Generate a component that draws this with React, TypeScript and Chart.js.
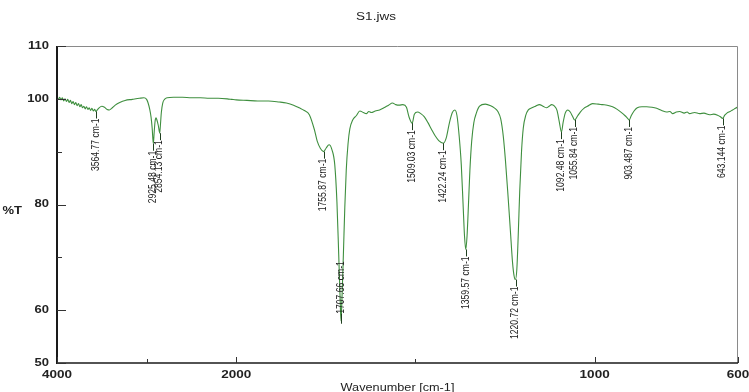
import React, { useEffect, useRef } from "react";
import { Chart, registerables, LinearScale } from "chart.js";

// ---------------- data ----------------
const wavenumbers: number[] = [
  4000, 3985, 3970, 3955, 3940, 3925, 3910, 3895, 3880, 3865, 3850, 3835, 3820, 3805, 3790, 3775, 3760, 3745, 3730, 3715,
  3700, 3685, 3670, 3655, 3640, 3625, 3610, 3595, 3580, 3565, 3550, 3530, 3500, 3470, 3440, 3415, 3390, 3350, 3300, 3240,
  3160, 3080, 3030, 3000, 2985, 2965, 2950, 2938, 2925, 2915, 2905, 2895, 2885, 2870, 2860, 2854, 2846, 2835, 2820, 2800,
  2770, 2700, 2600, 2500, 2400, 2300, 2200, 2100, 2050, 2000, 1970, 1940, 1910, 1880, 1860, 1840, 1824, 1810, 1796, 1782,
  1774, 1765, 1756, 1749, 1741, 1733, 1725, 1719, 1714, 1710, 1707.7, 1705, 1701, 1697, 1693, 1688, 1683, 1675, 1665, 1655,
  1645, 1637, 1630, 1623, 1612, 1600, 1588, 1575, 1564, 1555, 1545, 1535, 1525, 1518, 1509, 1503, 1494, 1485, 1475, 1465,
  1455, 1445, 1435, 1422, 1414, 1405, 1397, 1390, 1384, 1378, 1372, 1367, 1363, 1359.6, 1356, 1352, 1348, 1343, 1337, 1330,
  1321, 1305, 1290, 1280, 1270, 1262, 1255, 1249, 1242, 1235, 1229, 1225, 1221, 1217, 1213, 1209, 1204, 1199, 1192, 1185,
  1175, 1165, 1154, 1144, 1134, 1127, 1120, 1112, 1105, 1099, 1092.5, 1088, 1082, 1075, 1068, 1061, 1056, 1048, 1040, 1030,
  1020, 1006, 990, 978, 965, 950, 937, 925, 915, 908, 903.5, 898, 890, 881, 868, 855, 840, 827, 813, 799,
  790, 782, 772, 763, 750, 742, 735, 721, 707, 695, 679, 668, 657, 649, 643, 637, 631, 622, 615, 607, 600,
];
const transmittance: number[] = [
  100.2, 99.9, 100.3, 99.8, 100.2, 99.6, 100.0, 99.5, 99.9, 99.3, 99.7, 99.1, 99.5, 98.9, 99.3, 98.7, 99.1, 98.5, 98.9, 98.3,
  98.6, 98.1, 98.5, 98.0, 98.3, 97.8, 98.2, 97.7, 98.0, 97.6, 97.9, 98.3, 98.6, 98.4, 98.0, 97.9, 98.2, 98.8, 99.3, 99.7,
  99.9, 100.1, 100.2, 99.9, 99.3, 98.0, 96.5, 94.5, 91.5, 93.8, 95.8, 96.4, 96.0, 95.0, 94.0, 93.5, 95.0, 97.5, 99.2, 99.9,
  100.2, 100.3, 100.3, 100.2, 100.2, 100.1, 100.1, 100.0, 99.9, 99.8, 99.7, 99.6, 99.6, 99.4, 99.2, 98.8, 98.3, 97.8, 97.0, 94.2,
  92.0, 90.6, 90.0, 90.7, 91.3, 90.4, 87.5, 80.5, 70.5, 62.0, 58.0, 62.0, 70.5, 79.5, 86.5, 91.5, 94.3, 96.0, 96.8, 97.7,
  97.4, 97.2, 97.6, 97.4, 97.7, 97.9, 98.3, 98.8, 99.2, 98.9, 98.8, 98.9, 98.4, 96.6, 95.4, 97.1, 97.5, 97.2, 96.6, 95.5,
  94.2, 93.0, 92.1, 91.6, 92.6, 95.5, 97.4, 97.9, 96.8, 93.0, 87.5, 80.0, 74.0, 71.5, 74.0, 80.0, 86.5, 92.0, 95.5, 97.3,
  98.6, 99.0, 98.7, 98.3, 97.6, 96.2, 93.0, 88.5, 82.0, 75.0, 69.0, 66.6, 65.8, 67.8, 74.5, 82.5, 90.0, 94.5, 96.9, 97.9,
  98.3, 98.6, 98.9, 98.6, 98.3, 98.6, 98.9, 98.6, 97.8, 95.8, 93.7, 95.5, 97.3, 97.9, 97.5, 96.6, 96.0, 96.7, 97.5, 98.2,
  98.6, 99.1, 99.0, 98.9, 98.8, 98.5, 98.0, 97.4, 96.8, 96.3, 96.0, 96.8, 97.7, 98.3, 98.5, 98.5, 98.4, 98.2, 97.8, 97.5,
  97.6, 97.2, 97.5, 97.6, 97.3, 97.5, 97.2, 97.4, 97.2, 97.3, 97.0, 97.1, 96.9, 96.6, 96.3, 96.9, 97.3, 97.6, 97.9, 98.2, 98.5,
];

const peakWavenumbers: number[] = [3564.77, 2925.48, 2854.13, 1755.87, 1707.66, 1509.03, 1422.24, 1359.57, 1220.72, 1092.48, 1055.84, 903.487, 643.144];
const peakTransmittance: number[] = [97.6, 91.5, 93.5, 90.0, 58.0, 95.4, 91.6, 71.5, 65.8, 93.7, 96.0, 96.0, 96.3];
const peakLabels: string[] = [
  "3564.77 cm-1", "2925.48 cm-1", "2854.13 cm-1", "1755.87 cm-1", "1707.66 cm-1", "1509.03 cm-1", "1422.24 cm-1",
  "1359.57 cm-1", "1220.72 cm-1", "1092.48 cm-1", "1055.84 cm-1", "903.487 cm-1", "643.144 cm-1",
];

const xMajorTicks: number[] = [4000, 2000, 1000, 600];
const xMinorTicks: number[] = [3000, 1500];
const yMajorTicks: number[] = [50, 60, 80, 100, 110];
const yMinorTicks: number[] = [70, 90];

const chartTitle = "S1.jws";
const xTitle = "Wavenumber [cm-1]";
const yTitle = "%T";

// ---------------- broken wavenumber scale (JASCO style: 2000 cm-1 break, 4x compression above) ----------------
const BREAK = 2000;
const COMPRESS = 4;
function toU(wn: number): number {
  return wn >= BREAK ? -(wn - BREAK) / COMPRESS : BREAK - wn;
}
function fromU(u: number): number {
  return u <= 0 ? BREAK - u * COMPRESS : BREAK - u;
}

class BrokenWavenumberScale extends LinearScale {
  getPixelForValue(value: number) {
    const u0 = toU(this.max);
    const u1 = toU(this.min);
    return this.getPixelForDecimal((toU(value) - u0) / (u1 - u0));
  }
  getValueForPixel(pixel: number) {
    const u0 = toU(this.max);
    const u1 = toU(this.min);
    return fromU(u0 + this.getDecimalForPixel(pixel) * (u1 - u0));
  }
}
(BrokenWavenumberScale as any).id = "brokenWavenumber";
(BrokenWavenumberScale as any).defaults = (LinearScale as any).defaults;

Chart.register(...registerables, BrokenWavenumberScale as any);

// ---------------- drawing helpers ----------------
function stretchedText(ctx: CanvasRenderingContext2D, text: string, x: number, y: number, align: CanvasTextAlign, sx: number) {
  ctx.save();
  ctx.translate(x, y);
  ctx.scale(sx, 1);
  ctx.textAlign = align;
  ctx.textBaseline = "middle";
  ctx.fillText(text, 0, 0);
  ctx.restore();
}

const decorPlugin = {
  id: "ftirDecor",
  afterDatasetsDraw(chart: any) {
    const ctx: CanvasRenderingContext2D = chart.ctx;
    const { left, right, top, bottom } = chart.chartArea;
    const xs = chart.scales.x;
    const ys = chart.scales.y;

    ctx.save();
    // frame: top/right thin grey
    ctx.strokeStyle = "#8a8a8a";
    ctx.lineWidth = 1;
    ctx.beginPath();
    ctx.moveTo(left, top + 0.5);
    ctx.lineTo(right - 0.5, top + 0.5);
    ctx.lineTo(right - 0.5, bottom);
    ctx.stroke();
    // left & bottom axes
    ctx.strokeStyle = "#1a1a1a";
    ctx.lineWidth = 2;
    ctx.beginPath();
    ctx.moveTo(left, top);
    ctx.lineTo(left, bottom + 1);
    ctx.stroke();
    ctx.lineWidth = 1.5;
    ctx.beginPath();
    ctx.moveTo(left, bottom);
    ctx.lineTo(right, bottom);
    ctx.stroke();

    // ticks (inward)
    ctx.lineWidth = 1;
    ctx.strokeStyle = "#333";
    ctx.beginPath();
    yMajorTicks.forEach((v) => {
      const y = Math.round(ys.getPixelForValue(v)) + 0.5;
      ctx.moveTo(left, y);
      ctx.lineTo(left + 9, y);
    });
    yMinorTicks.forEach((v) => {
      const y = Math.round(ys.getPixelForValue(v)) + 0.5;
      ctx.moveTo(left, y);
      ctx.lineTo(left + 5, y);
    });
    xMajorTicks.forEach((v) => {
      const x = Math.round(xs.getPixelForValue(v)) + 0.5;
      ctx.moveTo(x, bottom);
      ctx.lineTo(x, bottom - 6);
    });
    xMinorTicks.forEach((v) => {
      const x = Math.round(xs.getPixelForValue(v)) + 0.5;
      ctx.moveTo(x, bottom);
      ctx.lineTo(x, bottom - 4);
    });
    ctx.stroke();

    // tick labels
    ctx.fillStyle = "#222";
    ctx.font = "bold 10px 'Liberation Sans', Arial, sans-serif";
    yMajorTicks.forEach((v) => {
      stretchedText(ctx, String(v), left - 8, ys.getPixelForValue(v), "right", 1.3);
    });
    xMajorTicks.forEach((v) => {
      stretchedText(ctx, String(v), xs.getPixelForValue(v), bottom + 12, "center", 1.35);
    });

    // titles
    ctx.font = "10px 'Liberation Sans', Arial, sans-serif";
    stretchedText(ctx, chartTitle, 376, 17, "center", 1.35);
    stretchedText(ctx, xTitle, (left + right) / 2, 388, "center", 1.27);
    ctx.font = "bold 10px 'Liberation Sans', Arial, sans-serif";
    stretchedText(ctx, yTitle, 22, 211, "right", 1.3);

    // peak annotations
    const gap = 7;
    const sx = 0.86;
    ctx.font = "10px 'Liberation Sans', Arial, sans-serif";
    peakWavenumbers.forEach((wn, i) => {
      const px = xs.getPixelForValue(wn);
      const py = ys.getPixelForValue(peakTransmittance[i]);
      const len = ctx.measureText(peakLabels[i]).width * sx;
      const below = py + gap + len <= bottom - 2;
      ctx.strokeStyle = "#1f3f1f";
      ctx.lineWidth = 1;
      ctx.beginPath();
      const lx = Math.round(px) + 0.5;
      if (below) {
        ctx.moveTo(lx, py);
        ctx.lineTo(lx, py + gap);
      } else {
        ctx.moveTo(lx, py + 3);
        ctx.lineTo(lx, py - gap);
      }
      ctx.stroke();
      ctx.save();
      ctx.fillStyle = "#222";
      ctx.translate(px, below ? py + gap + len : py - gap);
      ctx.rotate(-Math.PI / 2);
      ctx.scale(sx, 1);
      ctx.textAlign = "left";
      ctx.textBaseline = "middle";
      ctx.fillText(peakLabels[i], 0, 0);
      ctx.restore();
    });
    ctx.restore();
  },
};

export default function App() {
  const ref = useRef<HTMLCanvasElement>(null);
  useEffect(() => {
    document.body.style.margin = "0";
    const canvas = ref.current;
    if (!canvas) return;
    const chart = new Chart(canvas, {
      type: "line",
      data: {
        datasets: [
          {
            data: wavenumbers.map((w, i) => ({ x: w, y: transmittance[i] })),
            borderColor: "#3f8f3f",
            borderWidth: 1.1,
            pointRadius: 0,
            fill: false,
            cubicInterpolationMode: "monotone",
          },
        ],
      },
      options: {
        animation: false,
        responsive: false,
        devicePixelRatio: 1,
        events: [],
        layout: { padding: { left: 57, right: 11, top: 46, bottom: 29 } },
        plugins: { legend: { display: false }, tooltip: { enabled: false }, title: { display: false } },
        scales: {
          x: { type: "brokenWavenumber" as any, min: 600, max: 4000, display: false },
          y: { type: "linear", min: 50, max: 110, display: false },
        },
      },
      plugins: [decorPlugin],
    });
    return () => chart.destroy();
  }, []);
  return (
    <div style={{ width: 749, height: 392, position: "relative", background: "#fff" }}>
      <canvas ref={ref} width={749} height={392} style={{ display: "block" }} />
    </div>
  );
}
